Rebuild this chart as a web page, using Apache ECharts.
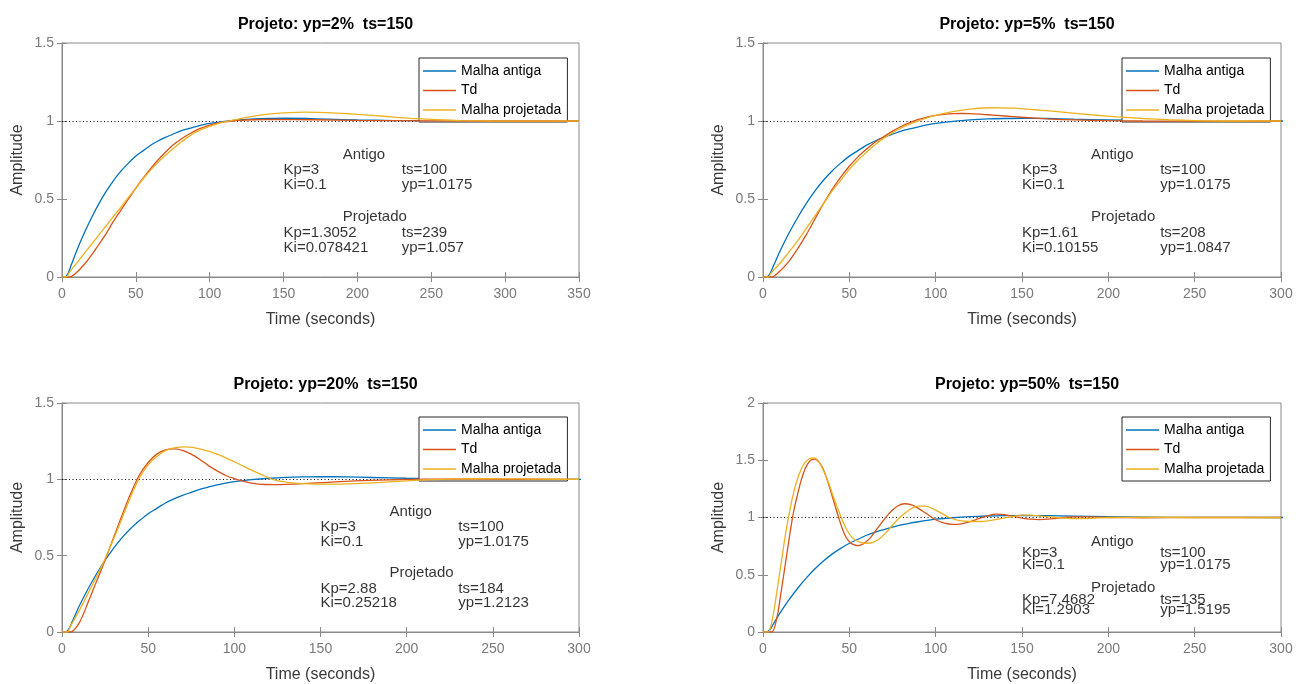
<!DOCTYPE html>
<html>
<head>
<meta charset="utf-8">
<script src="https://cdn.jsdelivr.net/npm/echarts@6/dist/echarts.min.js"></script>
<style>
html,body{margin:0;padding:0;background:#fff;}
#c{width:1296px;height:684px;}
</style>
</head>
<body>
<div id="c"></div>
<script>
// ---------- DATA ----------
const seriesNames = ['Malha antiga', 'Td', 'Malha projetada'];
const plotTitles = ['Projeto: yp=2%  ts=150', 'Projeto: yp=5%  ts=150', 'Projeto: yp=20%  ts=150', 'Projeto: yp=50%  ts=150'];
const xMaxes = [350, 300, 300, 300];
const yMaxes = [1.5, 1.5, 1.5, 2];

// Malha antiga (same loop in every panel)
const blueT = [0,2,4,6,8,10,15,20,25,30,35,40,45,50,55,60,65,70,75,80,85,90,95,100,110,120,130,140,150,165,180,200,225,250,300,350];
const blueY = [0,0,0.02,0.07,0.12,0.17,0.28,0.38,0.47,0.55,0.62,0.68,0.73,0.775,0.81,0.845,0.872,0.895,0.915,0.935,0.95,0.963,0.975,0.985,0.998,1.007,1.013,1.016,1.0175,1.016,1.012,1.007,1.003,1.001,1.0,1.0];

// Panel 1: yp=2%
const p1TdT = [0,5,10,15,20,25,30,35,40,45,50,55,60,65,70,75,80,85,90,95,100,105,110,115,120,130,145,170,200,250,300,350];
const p1TdY = [0,0,0.03,0.08,0.14,0.21,0.28,0.36,0.43,0.5,0.57,0.635,0.695,0.75,0.8,0.845,0.88,0.91,0.937,0.958,0.974,0.986,0.994,1.0,1.004,1.008,1.01,1.008,1.004,1.001,1.0,1.0];
const p1ProjT = [0,3,5,10,15,20,25,30,35,40,45,50,55,60,65,70,75,80,85,90,95,100,105,110,115,120,130,140,150,165,180,195,210,225,240,255,270,290,320,350];
const p1ProjY = [0,0,0.03,0.09,0.15,0.21,0.27,0.33,0.39,0.45,0.51,0.57,0.63,0.685,0.735,0.78,0.82,0.86,0.895,0.925,0.948,0.965,0.982,0.994,1.004,1.014,1.031,1.044,1.052,1.057,1.054,1.046,1.036,1.025,1.015,1.008,1.003,1.0,0.999,1.0];

// Panel 2: yp=5%
const p2TdT = [0,5,10,15,20,25,30,35,40,45,50,55,60,65,70,75,80,85,90,95,100,105,110,115,120,130,140,150,165,180,200,220,250,300];
const p2TdY = [0,0,0.04,0.1,0.18,0.27,0.37,0.47,0.56,0.64,0.71,0.77,0.82,0.865,0.9,0.935,0.965,0.99,1.01,1.025,1.036,1.043,1.047,1.048,1.047,1.04,1.032,1.024,1.014,1.007,1.002,1.0,0.999,1.0];
const p2ProjT = [0,3,5,10,15,20,25,30,35,40,45,50,55,60,65,70,75,80,85,90,95,100,110,120,133,145,160,175,190,205,220,235,250,270,300];
const p2ProjY = [0,0,0.03,0.09,0.16,0.23,0.31,0.39,0.47,0.55,0.62,0.69,0.75,0.8,0.85,0.89,0.925,0.955,0.98,1.0,1.02,1.036,1.06,1.076,1.085,1.082,1.07,1.055,1.04,1.027,1.016,1.008,1.003,1.0,1.0];

// Panel 3: yp=20%
const p3TdT = [0,5,10,15,20,25,30,35,40,45,50,55,60,65,70,75,80,85,90,95,100,105,110,118,125,135,150,170,190,210,240,300];
const p3TdY = [0,0,0.06,0.19,0.33,0.47,0.62,0.77,0.91,1.03,1.11,1.165,1.193,1.2,1.19,1.165,1.13,1.09,1.055,1.025,1.005,0.988,0.975,0.966,0.965,0.969,0.978,0.99,0.997,1.001,1.001,1.0];
const p3ProjT = [0,3,5,10,15,20,25,30,35,40,45,50,55,60,65,72,80,90,100,110,117,122,130,140,155,170,185,200,215,230,250,275,300];
const p3ProjY = [0,0,0.04,0.14,0.25,0.36,0.48,0.61,0.75,0.89,1.01,1.095,1.15,1.188,1.206,1.212,1.2,1.165,1.115,1.06,1.025,1.0,0.982,0.972,0.968,0.972,0.98,0.99,0.998,1.003,1.004,1.001,1.0];

// Panel 4: yp=50%
const p4TdT = [0,5,8,10,12,14,16,18,20,22,24,26,28,30,32,34,36,38,40,42,44,46,48,50,52,55,58,62,66,70,74,78,82,86,90,95,100,105,110,115,120,125,130,135,140,145,150,155,160,165,170,175,180,190,200,220,250,300];
const p4TdY = [0,0,0.12,0.3,0.5,0.7,0.9,1.07,1.2,1.32,1.41,1.47,1.505,1.51,1.49,1.45,1.38,1.29,1.19,1.09,0.99,0.9,0.83,0.79,0.765,0.755,0.77,0.82,0.9,0.98,1.05,1.1,1.12,1.11,1.08,1.03,0.98,0.95,0.94,0.945,0.965,0.99,1.015,1.03,1.025,1.01,0.995,0.985,0.982,0.985,0.993,1.0,1.006,1.005,1.0,0.998,1.0,1.0];
const p4ProjT = [0,3,5,7,9,11,13,15,17,19,21,23,25,27,29,31,33,35,37,39,41,43,45,47,49,52,56,60,64,68,72,76,80,85,90,94,98,103,108,113,120,126,132,138,145,150,155,162,170,180,190,200,220,250,300];
const p4ProjY = [0,0,0.08,0.25,0.45,0.65,0.85,1.02,1.17,1.29,1.38,1.45,1.49,1.515,1.52,1.51,1.47,1.41,1.34,1.26,1.17,1.09,1.01,0.94,0.88,0.82,0.785,0.775,0.785,0.82,0.88,0.95,1.01,1.07,1.1,1.1,1.08,1.04,1.0,0.975,0.965,0.965,0.975,0.99,1.01,1.02,1.02,1.01,1.0,0.99,0.992,1.0,1.004,1.0,1.0];

// Annotation texts per panel (MATLAB text() strings)
const annotOld = ['Antigo', 'Kp=3', 'Ki=0.1', 'ts=100', 'yp=1.0175'];
const annotNew = [
  ['Projetado', 'Kp=1.3052', 'Ki=0.078421', 'ts=239', 'yp=1.057'],
  ['Projetado', 'Kp=1.61', 'Ki=0.10155', 'ts=208', 'yp=1.0847'],
  ['Projetado', 'Kp=2.88', 'Ki=0.25218', 'ts=184', 'yp=1.2123'],
  ['Projetado', 'Kp=7.4682', 'Ki=1.2903', 'ts=135', 'yp=1.5195']
];
// anchor data coordinates of the text() calls (same in every panel)
const annotOldAnchors = [[190,0.785],[150,0.69],[150,0.59],[230,0.69],[230,0.59]];
const annotNewAnchors = [[190,0.385],[150,0.285],[150,0.19],[230,0.285],[230,0.19]];

// ---------- LAYOUT ----------
const grids = [
  {left: 62, top: 43, width: 517, height: 234},
  {left: 763, top: 43, width: 518, height: 234},
  {left: 62, top: 403, width: 517, height: 233},
  {left: 763, top: 403, width: 518, height: 233}
];
const legendPos = [
  {left: 419, top: 58}, {left: 1122, top: 58}, {left: 419, top: 417}, {left: 1122, top: 417}
];
const colors = ['#0072BD', '#D95319', '#EDB120'];
const FONT = '"Liberation Sans", Arial, Helvetica, sans-serif';
const axisGray = '#8a8a8a';

const panels = [
  [[blueT, blueY], [p1TdT, p1TdY], [p1ProjT, p1ProjY]],
  [[blueT, blueY], [p2TdT, p2TdY], [p2ProjT, p2ProjY]],
  [[blueT, blueY], [p3TdT, p3TdY], [p3ProjT, p3ProjY]],
  [[blueT, blueY], [p4TdT, p4TdY], [p4ProjT, p4ProjY]]
];
function pairs(t, y) { return t.map((v, i) => [v, y[i]]); }

const option = {
  backgroundColor: '#fff',
  animation: false,
  textStyle: {fontFamily: FONT},
  title: [], grid: [], xAxis: [], yAxis: [], legend: [], series: []
};

grids.forEach((g, i) => {
  option.grid.push(Object.assign({show: true, borderColor: axisGray, borderWidth: 1, containLabel: false}, g));
  option.title.push({
    text: plotTitles[i],
    left: g.left + g.width / 2, top: g.top - 31, textAlign: 'center',
    textStyle: {fontFamily: FONT, fontSize: 16, fontWeight: 'bold', color: '#000'}
  });
  const common = {
    type: 'value', gridIndex: i, min: 0, max: xMaxes[i], interval: 50,
    splitLine: {show: false},
    axisLine: {show: true, lineStyle: {color: axisGray, width: 1}},
    axisTick: {show: true, inside: true, length: 5, lineStyle: {color: axisGray}}
  };
  option.xAxis.push(Object.assign({}, common, {
    position: 'bottom',
    axisLabel: {color: '#7a7a7a', fontSize: 14, margin: 10, fontFamily: FONT},
    name: 'Time (seconds)', nameLocation: 'middle', nameGap: 35,
    nameTextStyle: {color: '#3a3a3a', fontSize: 16, fontFamily: FONT}
  }));
  option.xAxis.push(Object.assign({}, common, {position: 'top', axisLabel: {show: false}}));
  const ycommon = {
    type: 'value', gridIndex: i, min: 0, max: yMaxes[i], interval: 0.5,
    splitLine: {show: false},
    axisLine: {show: true, lineStyle: {color: axisGray, width: 1}},
    axisTick: {show: true, inside: true, length: 5, lineStyle: {color: axisGray}}
  };
  option.yAxis.push(Object.assign({}, ycommon, {
    position: 'left',
    axisLabel: {color: '#7a7a7a', fontSize: 14, margin: 8, fontFamily: FONT},
    name: 'Amplitude', nameLocation: 'middle', nameGap: 36, nameRotate: 90,
    nameTextStyle: {color: '#3a3a3a', fontSize: 16, fontFamily: FONT}
  }));
  option.yAxis.push(Object.assign({}, ycommon, {position: 'right', axisLabel: {show: false}}));

  option.legend.push({
    orient: 'vertical', left: legendPos[i].left, top: legendPos[i].top,
    data: seriesNames.map(n => ({name: n, icon: 'rect'})),
    itemWidth: 33, itemHeight: 1.5, itemGap: 3.5,
    padding: [5, 6, 4, 4], borderColor: '#262626', borderWidth: 1, backgroundColor: '#fff',
    textStyle: {fontSize: 14, color: '#000', fontFamily: FONT, lineHeight: 16},
    selectedMode: false
  });

  const xi = i * 2, yi = i * 2;
  panels[i].forEach((cur, k) => {
    const s = {
      type: 'line', name: seriesNames[k], xAxisIndex: xi, yAxisIndex: yi,
      data: pairs(cur[0], cur[1]), symbol: 'none', smooth: 0.3,
      lineStyle: {color: colors[k], width: 1.3}, itemStyle: {color: colors[k]},
      z: 3 + k, silent: true
    };
    if (k === 0) {
      s.markLine = {
        silent: true, symbol: ['none', 'none'], label: {show: false},
        lineStyle: {color: '#000', width: 1, type: [1, 2.5]},
        data: [{yAxis: 1}], z: 2
      };
    }
    option.series.push(s);
  });

  const texts = annotOld.map((t, j) => [annotOldAnchors[j][0], annotOldAnchors[j][1], t])
    .concat(annotNew[i].map((t, j) => [annotNewAnchors[j][0], annotNewAnchors[j][1], t]));
  option.series.push({
    type: 'scatter', xAxisIndex: xi, yAxisIndex: yi, symbolSize: 0, silent: true, z: 10,
    data: texts,
    label: {
      show: true, position: [0, 0], align: 'left', verticalAlign: 'middle',
      formatter: p => p.value[2], color: '#000', fontSize: 15, fontFamily: FONT
    }
  });
});

const chart = echarts.init(document.getElementById('c'), null, {renderer: 'canvas'});
chart.setOption(option);
</script>
</body>
</html>
